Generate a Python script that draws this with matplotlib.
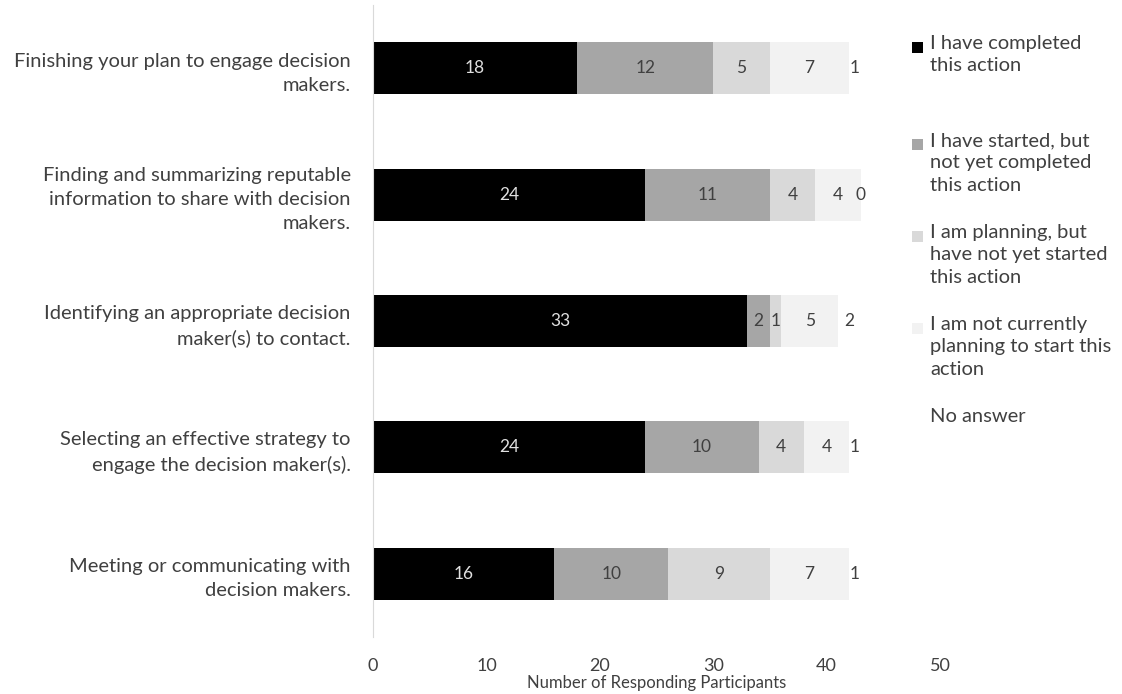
import matplotlib
matplotlib.use("Agg")
import matplotlib.pyplot as plt
from matplotlib.patches import Rectangle
import numpy as np

categories = [
    "Finishing your plan to engage decision\nmakers.",
    "Finding and summarizing reputable\ninformation to share with decision\nmakers.",
    "Identifying an appropriate decision\nmaker(s) to contact.",
    "Selecting an effective strategy to\nengage the decision maker(s).",
    "Meeting or communicating with\ndecision makers.",
]
series_names = [
    "I have completed\nthis action",
    "I have started, but\nnot yet completed\nthis action",
    "I am planning, but\nhave not yet started\nthis action",
    "I am not currently\nplanning to start this\naction",
    "No answer",
]
completed = [18, 24, 33, 24, 16]
started = [12, 11, 2, 10, 10]
planning = [5, 4, 1, 4, 9]
not_planning = [7, 4, 5, 4, 7]
no_answer = [1, 0, 2, 1, 1]
series = [completed, started, planning, not_planning, no_answer]
xticks = [0, 10, 20, 30, 40, 50]
xlabel = "Number of Responding Participants"

colors = ["#000000", "#a6a6a6", "#d9d9d9", "#f2f2f2", "#ffffff"]
label_colors = ["#e0e0e0", "#404040", "#404040", "#404040", "#404040"]
FONT = "Lato"
TXT = "#404040"

fig = plt.figure(figsize=(11.22, 6.94), dpi=100)
ax = fig.add_axes([373 / 1122, 1 - 637 / 694, (940 - 373) / 1122, (637 - 5) / 694])

y = np.arange(len(categories))
left = np.zeros(len(categories))
for vals, c, lc in zip(series, colors, label_colors):
    vals = np.array(vals, dtype=float)
    ax.barh(y, vals, left=left, height=0.41, color=c, edgecolor="none")
    for yi, (l, v) in enumerate(zip(left, vals)):
        ax.text(l + v / 2, yi, f"{int(v)}", ha="center", va="center",
                fontsize=12.5, color=lc, family=FONT)
    left += vals

ax.set_ylim(len(categories) - 0.5, -0.5)
ax.set_xlim(0, 50)
ax.set_yticks(y)
ax.set_yticklabels(categories, fontsize=14.5, color=TXT, family=FONT,
                   ha="right", multialignment="right", linespacing=1.5)
ax.tick_params(axis="y", length=0, pad=16)
ax.set_xticks(xticks)
ax.set_xticklabels([str(t) for t in xticks], fontsize=13, color=TXT, family=FONT)
ax.tick_params(axis="x", length=0, pad=15)
ax.set_xlabel(xlabel, fontsize=12, color=TXT, family=FONT, labelpad=1)
for s in ["top", "right", "bottom"]:
    ax.spines[s].set_visible(False)
ax.spines["left"].set_color("#d9d9d9")

# legend (manual, Excel-like layout)
leg_tops = [47, 144, 236, 328, 420]
for name, c, ty in zip(series_names, colors, leg_tops):
    if c != "#ffffff":
        fig.patches.append(Rectangle((912 / 1122, 1 - (ty + 6) / 694), 11 / 1122, 11 / 694,
                                     transform=fig.transFigure, facecolor=c,
                                     edgecolor="none"))
    fig.text(930 / 1122, 1 - (ty - 12) / 694, name, ha="left", va="top",
             fontsize=14.5, color=TXT, family=FONT, linespacing=1.39)

fig.savefig("out.png", dpi=100)
